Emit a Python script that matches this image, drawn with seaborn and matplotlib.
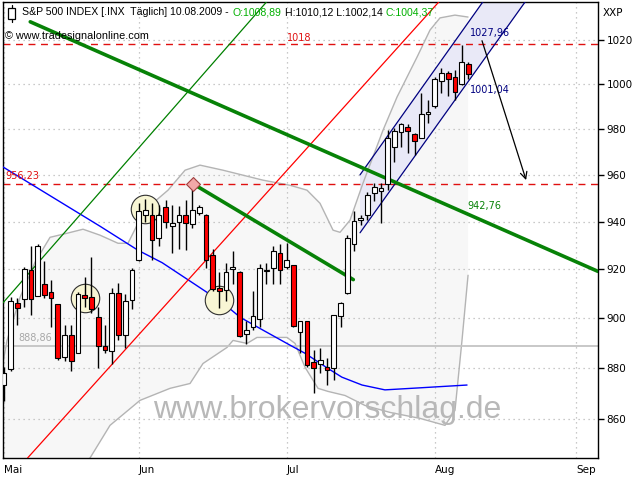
#!/usr/bin/env python3
# S&P 500 daily candles (May - Aug 2009) with trend lines, channel and bands

import matplotlib
matplotlib.use("Agg")
from matplotlib import pyplot as plt
from matplotlib import transforms
from matplotlib.patches import Rectangle
from matplotlib.lines import Line2D
import seaborn as sns
import numpy as np
import pandas as pd

# candles, x = trading day counted from 1 May 2009
opens = [873.5, 879.6, 906.3, 907.9, 919.6, 909.2, 914.2, 910.8, 905.8, 884.4,
         893.2, 886.0, 909.6, 908.8, 900.4, 888.8, 886.8, 910.4, 893.2, 907.5,
         923.8, 943.0, 943.0, 932.9, 946.0, 938.0, 940.0, 942.6, 939.1, 943.8,
         942.6, 926.2, 912.5, 911.7, 920.0, 918.8, 893.6, 896.4, 899.6, 919.2,
         920.4, 927.0, 921.2, 921.7, 894.4, 898.8, 882.4, 881.6, 880.4, 880.0,
         900.8, 910.4, 930.5, 940.9, 942.6, 952.3, 953.2, 956.2, 972.2, 978.7,
         980.9, 977.8, 976.1, 986.7, 990.2, 1001.3, 1005.0, 1003.2, 1000.0, 1008.89]
highs = [880.5, 908.5, 908.3, 921.2, 929.6, 930.5, 923.4, 915.8, 905.8, 897.2,
         897.2, 910.8, 916.7, 925.0, 904.6, 897.2, 912.5, 914.6, 910.0, 920.8,
         948.0, 949.8, 948.0, 947.1, 949.0, 947.1, 946.7, 949.0, 956.2, 947.0,
         943.4, 928.3, 918.8, 922.5, 927.5, 919.2, 898.8, 911.3, 922.1, 922.5,
         929.6, 930.5, 931.0, 922.0, 898.9, 898.8, 887.2, 888.0, 884.0, 901.3,
         906.7, 934.2, 944.3, 942.6, 952.8, 956.6, 956.6, 979.6, 980.4, 982.7,
         982.2, 978.3, 996.0, 992.9, 1003.2, 1007.3, 1005.9, 1006.4, 1017.7, 1010.12]
lows = [867.0, 878.8, 897.2, 904.6, 901.3, 909.0, 908.3, 896.4, 883.2, 882.8,
        878.8, 886.0, 904.6, 902.0, 880.0, 886.0, 881.6, 891.2, 888.0, 903.8,
        923.4, 940.0, 923.8, 929.6, 937.5, 927.0, 928.3, 927.9, 937.5, 943.0,
        920.8, 911.3, 904.2, 907.1, 913.8, 892.4, 889.6, 895.2, 896.4, 914.2,
        914.2, 914.2, 920.0, 896.4, 886.0, 880.4, 870.2, 878.0, 873.5, 875.4,
        896.4, 910.0, 927.5, 938.4, 940.9, 948.9, 939.5, 953.6, 965.6, 972.2,
        969.6, 968.7, 976.1, 982.7, 989.3, 996.0, 994.7, 992.9, 999.5, 1002.14]
closes = [878.0, 907.2, 904.2, 920.0, 907.9, 929.6, 909.6, 908.3, 884.0, 893.2,
          882.8, 910.0, 908.3, 903.8, 888.8, 887.2, 910.4, 893.2, 907.1, 919.6,
          944.3, 945.1, 932.1, 942.6, 940.0, 939.6, 942.6, 939.6, 945.1, 946.4,
          923.8, 912.1, 911.3, 918.8, 921.2, 892.8, 895.2, 900.8, 920.8, 919.6,
          927.5, 919.6, 923.8, 896.8, 898.8, 881.2, 880.0, 883.2, 879.2, 901.3,
          906.3, 932.9, 940.4, 941.3, 951.5, 954.9, 954.5, 976.1, 979.1, 982.2,
          979.1, 974.8, 986.7, 987.6, 1002.2, 1005.0, 1002.3, 996.6, 1010.0, 1004.37]

month_pos = [0, 20, 42, 64, 85]
month_labels = ["Mai", "Jun", "Jul", "Aug", "Sep"]
y_ticks = [860, 880, 900, 920, 940, 960, 980, 1000, 1020]

# moving average
ma_x = [-0.15, 8.0, 14.3, 19.9, 23.5, 28.4, 32.5, 35.1, 38.5, 42.5, 44.7,
        48.1, 50.2, 53.2, 56.6, 61.8, 68.8]
ma_y = [963.4, 949.0, 938.0, 928.0, 922.8, 913.8, 906.3, 900.4, 895.2, 889.2,
        886.0, 880.0, 876.5, 873.4, 871.5, 872.3, 873.4]

# bollinger bands
bb_up_x = [-0.15, 0.45, 2.38, 4.61, 6.84, 9.36, 11.74, 14.26, 16.94, 18.42,
           19.91, 21.4, 24.37, 26.9, 29.12, 32.54, 38.48, 42.5, 45.02, 46.95,
           48.89, 49.93, 51.41, 53.34, 56.32, 58.4, 61.37, 63.3, 64.78, 67.0, 68.95]
bb_up_y = [882.3, 891.1, 908.5, 923.0, 933.4, 935.1, 936.8, 934.3, 930.9, 930.9,
           939.3, 946.1, 953.4, 962.0, 964.2, 962.0, 957.7, 955.5, 953.4, 947.8,
           936.4, 935.5, 940.6, 956.4, 979.5, 994.2, 1012.2, 1024.6, 1030.2, 1031.5, 1030.6]
bb_lo_x = [-0.15, 6.84, 12.78, 15.75, 20.21, 24.67, 27.64, 29.57, 33.14, 34.03,
           36.11, 37.59, 42.05, 43.24, 44.73, 46.66, 48.14, 50.67, 53.64, 57.36,
           61.81, 65.53, 67.01, 68.05, 68.95]
bb_lo_y = [821.7, 832.9, 845.2, 857.7, 867.4, 872.1, 874.0, 881.9, 888.3, 891.1,
           889.9, 892.3, 892.3, 889.9, 880.4, 872.1, 870.9, 869.3, 865.4, 862.7,
           860.4, 857.7, 863.5, 891.1, 917.6]

# trend lines (x0, v0, x1, v1)
thin_green = (-0.15, 906.3, 39.0, 1037.6)
thin_red = (3.5, 845.2, 64.6, 1037.6)
long_green = (3.9, 1028.4, 88.26, 919.2)
short_green = (28.04, 956.2, 51.9, 915.8)
chan_up = (52.9, 960.0, 68.95, 1027.96)
chan_lo = (52.9, 935.3, 68.95, 1001.04)
arrow_pts = (70.9, 1020.9, 77.7, 956.6)

circle_x = [12.04, 20.95, 32.0]
circle_y = [908.2, 945.5, 907.5]
diamond = (28.04, 956.23)

lvl_1018 = 1018
lvl_956 = 956.23
lvl_888 = 888.86


def extend(line, x2):
    x0, v0, x1, v1 = line
    k = np.log(v1 / v0) / (x1 - x0)
    return v0 * np.exp(k * (x2 - x0))


sns.set_theme(style="white")
plt.rcParams["font.family"] = ["DejaVu Sans"]

fig = plt.figure(figsize=(6.4, 4.8), dpi=100)
fig.patch.set_facecolor("white")
ax = fig.add_axes([3 / 640, 22 / 480, 595 / 640, 456 / 480])
ax.set_yscale("log")
ax.set_xlim(-0.15, 88.26)
ax.set_ylim(845.2, 1037.6)

# band fill
ax.fill(np.r_[bb_up_x, bb_lo_x[::-1]], np.r_[bb_up_y, bb_lo_y[::-1]],
        color="#f7f7f7", lw=0, zorder=0)

# grid
for m in month_pos:
    ax.axvline(m, color="#b8b8b8", lw=0.9, ls=(0, (1, 3)), zorder=1)
for t in y_ticks:
    ax.axhline(t, color="#b8b8b8", lw=0.9, ls=(0, (1, 3)), zorder=1)

# channel
cx_end = 78
cu_end = extend(chan_up, cx_end)
cl_end = extend(chan_lo, cx_end)
ax.fill([chan_up[0], cx_end, cx_end, chan_lo[0]],
        [chan_up[1], cu_end, cl_end, chan_lo[1]],
        color="#e9e9f7", lw=0, zorder=1.5)
ax.plot([chan_up[0], cx_end], [chan_up[1], cu_end], color="#000080", lw=0.9, zorder=3)
ax.plot([chan_lo[0], cx_end], [chan_lo[1], cl_end], color="#000080", lw=0.9, zorder=3)

# bands and moving average
bands = pd.DataFrame({"x": bb_up_x, "y": bb_up_y})
sns.lineplot(data=bands, x="x", y="y", ax=ax, color="#b4b4b4", lw=1, zorder=2)
bands = pd.DataFrame({"x": bb_lo_x, "y": bb_lo_y})
sns.lineplot(data=bands, x="x", y="y", ax=ax, color="#b4b4b4", lw=1, zorder=2)
sns.lineplot(x=ma_x, y=ma_y, ax=ax, color="#0000ff", lw=1, zorder=3)

# horizontal levels
ax.axhline(lvl_1018, color="#e01010", lw=1, ls=(0, (5, 4)), zorder=2)
ax.axhline(lvl_956, color="#e01010", lw=1, ls=(0, (5, 4)), zorder=2)
ax.axhline(lvl_888, color="#c4c4c4", lw=1.3, zorder=2)

# trend lines
ax.plot(thin_green[::2], thin_green[1::2], color="#008000", lw=0.9, zorder=3)
ax.plot(thin_red[::2], thin_red[1::2], color="#ff0000", lw=0.9, zorder=3)
ax.plot(long_green[::2], long_green[1::2], color="#078207", lw=2.6, zorder=3)
ax.plot(short_green[::2], short_green[1::2], color="#078207", lw=2.6, zorder=3)

ax.annotate("", xy=(arrow_pts[2], arrow_pts[3]), xytext=(arrow_pts[0], arrow_pts[1]),
            arrowprops=dict(arrowstyle="->", color="black", lw=0.9, mutation_scale=12),
            zorder=4)

# marker circles and diamond
ax.scatter(circle_x, circle_y, s=420, facecolor="#f8f6d4", edgecolor="#303030",
           lw=0.8, zorder=4)

# candles
days = np.arange(len(opens))
o = np.array(opens)
c = np.array(closes)
body_lo = np.minimum(o, c)
body_h = np.maximum(np.abs(c - o), 0.5)
colors = np.where(c >= o, "white", "#ff0000")
ax.vlines(days, lows, highs, color="black", lw=1, zorder=5)
ax.bar(days, body_h, bottom=body_lo, width=0.7, color=colors,
       edgecolor="black", lw=0.8, zorder=6)

ax.scatter([diamond[0]], [diamond[1]], marker="D", s=50, facecolor="#f2a8a8",
           edgecolor="#a04040", lw=0.8, zorder=7)

# axes styling
ax.set_yticks(y_ticks)
ax.set_yticklabels([str(t) for t in y_ticks])
ax.yaxis.set_minor_locator(matplotlib.ticker.NullLocator())
ax.yaxis.tick_right()
ax.set_xticks(month_pos)
ax.set_xticklabels(month_labels, ha="left")
ax.tick_params(axis="both", direction="out", length=4, width=1, labelsize=7.5,
               color="black", labelcolor="black")
ax.tick_params(axis="x", pad=1)
ax.tick_params(axis="y", pad=2)
ax.set_xlabel("")
ax.set_ylabel("")
for sp in ax.spines.values():
    sp.set_color("black")
    sp.set_linewidth(1)

# labels inside chart
ax.text(43.8, 1020.9, "1018", color="#e01010", fontsize=7, ha="center", va="center")
ax.text(0.15, 959.6, "956,23", color="#e01010", fontsize=7, ha="left", va="center")
ax.text(2.1, 891.9, "888,86", color="#a8a8a8", fontsize=7, ha="left", va="center")
ax.text(69.2, 1023.2, "1027,96", color="#000080", fontsize=7, ha="left", va="center")
ax.text(69.2, 997.3, "1001,04", color="#000080", fontsize=7, ha="left", va="center")
ax.text(68.9, 946.7, "942,76", color="#078207", fontsize=7, ha="left", va="center")

ax.text(0.545, 0.105, "www.brokervorschlag.de", transform=ax.transAxes,
        fontsize=23, color="#b8b8b8", ha="center", va="center",
        family="Liberation Sans", zorder=8)

# title with coloured parts
fig.canvas.draw()
rend = fig.canvas.get_renderer()
tr = ax.transAxes
parts = [("S&P 500 INDEX [.INX  Täglich] 10.08.2009 -", "black"),
         ("O:1008,89", "#00b000"),
         ("H:1010,12 L:1002,14", "black"),
         ("C:1004,37", "#00b000")]
for s, col in parts:
    t = ax.text(0.032, 0.978, s, color=col, fontsize=7.6, transform=tr,
                family="Liberation Sans", ha="left", va="center", zorder=9)
    w = t.get_window_extent(renderer=rend).width
    tr = transforms.offset_copy(t.get_transform(), x=w + 3.5, units="dots")

ax.text(0.004, 0.925, "© www.tradesignalonline.com", transform=ax.transAxes,
        fontsize=7.8, color="black", ha="left", va="center",
        family="Liberation Sans", zorder=9)

# small candle icon
ax.add_patch(Rectangle((5 / 595, 1 - 17 / 456), 7 / 595, 11 / 456,
                       transform=ax.transAxes, facecolor="white",
                       edgecolor="black", lw=0.9, zorder=9))
ax.add_line(Line2D([8.5 / 595, 8.5 / 595], [1 - 20 / 456, 1 - 3 / 456],
                   transform=ax.transAxes, color="black", lw=0.9, zorder=8.5))

fig.text(603 / 640, 1 - 13 / 480, "XXP", fontsize=7.5, color="black",
         ha="left", va="center")

fig.savefig("out.png", dpi=100)
